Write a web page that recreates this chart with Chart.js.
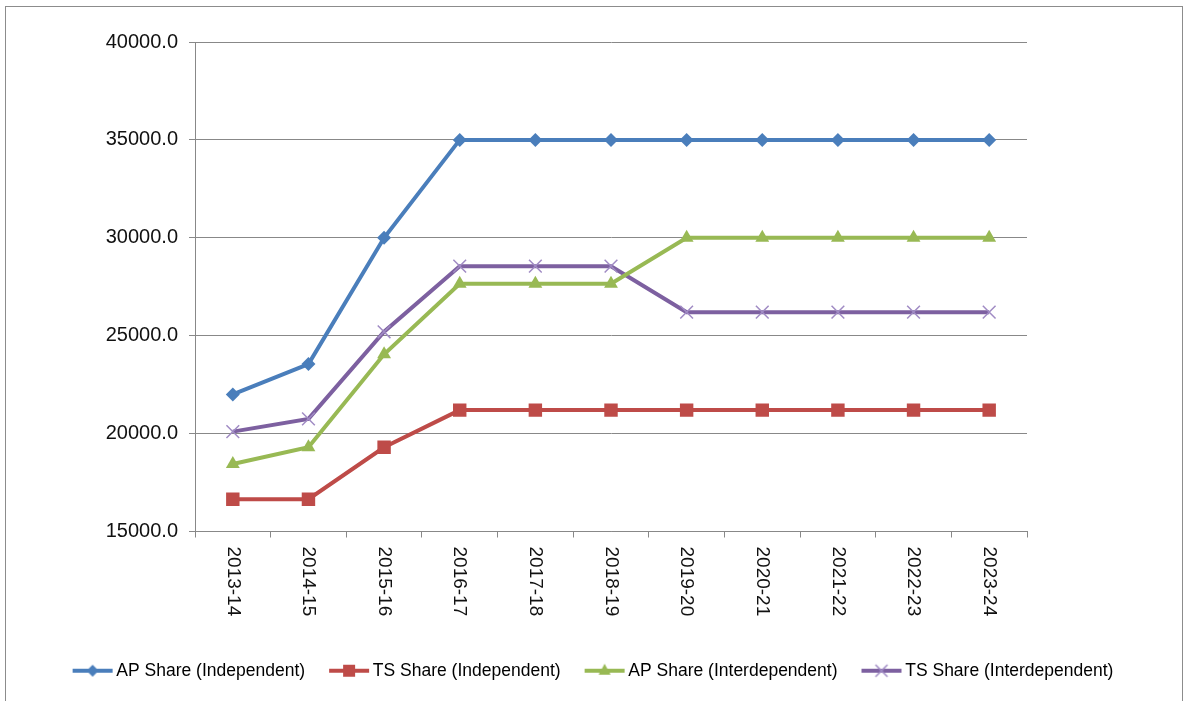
<!DOCTYPE html>
<html>
<head>
<meta charset="utf-8">
<script src="https://cdn.jsdelivr.net/npm/chart.js@4/dist/chart.umd.min.js"></script>
<style>
    body { margin: 0; background: #fff; }
    #frame { position: absolute; left: 5px; top: 6px; width: 1176px; height: 720px; border: 1px solid #8c8c8c; }
    #shareChart { position: absolute; left: 0; top: 0; }
</style>
</head>
<body>
<div id="frame"></div>
<canvas id="shareChart" width="1185" height="701"></canvas>
<script>
const anos = ['2013-14', '2014-15', '2015-16', '2016-17', '2017-18', '2018-19', '2019-20', '2020-21', '2021-22', '2022-23', '2023-24'];
const apIndependent = [22000, 23550, 30000, 35000, 35000, 35000, 35000, 35000, 35000, 35000, 35000];
const tsIndependent = [16650, 16650, 19300, 21200, 21200, 21200, 21200, 21200, 21200, 21200, 21200];
const apInterdependent = [18450, 19300, 24050, 27650, 27650, 27650, 30000, 30000, 30000, 30000, 30000];
const tsInterdependent = [20100, 20750, 25200, 28550, 28550, 28550, 26200, 26200, 26200, 26200, 26200];
const yTicks = [15000, 20000, 25000, 30000, 35000, 40000];

const fonte = 'Liberation Sans, Arial, sans-serif';

function iconeLegenda(cor, estilo, corMarca) {
    const c = document.createElement('canvas');
    c.width = 44; c.height = 18;
    const g = c.getContext('2d');
    const cx = 21, cy = 9;
    g.strokeStyle = cor; g.lineWidth = 4;
    g.beginPath(); g.moveTo(1, cy); g.lineTo(41, cy); g.stroke();
    g.fillStyle = cor;
    g.beginPath();
    if (estilo === 'rectRot') {
        g.moveTo(cx - 6, cy); g.lineTo(cx, cy - 6); g.lineTo(cx + 6, cy); g.lineTo(cx, cy + 6); g.closePath(); g.fill();
    } else if (estilo === 'rect') {
        g.fillRect(cx - 6, cy - 6, 12, 12);
    } else if (estilo === 'triangle') {
        g.moveTo(cx, cy - 7); g.lineTo(cx + 6, cy + 4); g.lineTo(cx - 6, cy + 4); g.closePath(); g.fill();
    } else {
        g.strokeStyle = corMarca; g.lineWidth = 1.5;
        g.moveTo(cx - 6, cy - 6); g.lineTo(cx + 6, cy + 6);
        g.moveTo(cx + 6, cy - 6); g.lineTo(cx - 6, cy + 6); g.stroke();
    }
    return c;
}

const series = [
    { label: 'AP Share (Independent)', data: apIndependent, cor: '#4A7EBB', estilo: 'rectRot', raio: 7 },
    { label: 'TS Share (Independent)', data: tsIndependent, cor: '#BE4B48', estilo: 'rect', raio: 9.5 },
    { label: 'AP Share (Interdependent)', data: apInterdependent, cor: '#98B954', estilo: 'triangle', raio: 8 },
    { label: 'TS Share (Interdependent)', data: tsInterdependent, cor: '#7D60A0', estilo: 'crossRot', raio: 9, marca: '#A08BC4' }
];

// rotulos do eixo x escritos de cima para baixo
const rotulosX = {
    id: 'rotulosX',
    afterDraw(chart) {
        const x = chart.scales.x;
        const ctx = chart.ctx;
        ctx.save();
        ctx.font = '19px ' + fonte;
        ctx.fillStyle = '#111';
        ctx.textAlign = 'left';
        ctx.textBaseline = 'middle';
        anos.forEach((a, i) => {
            ctx.save();
            ctx.translate(x.getPixelForTick(i), x.top + 15);
            ctx.rotate(Math.PI / 2);
            ctx.fillText(a, 0, 0);
            ctx.restore();
        });
        ctx.restore();
    }
};

const ctx = document.getElementById('shareChart').getContext('2d');
new Chart(ctx, {
    type: 'line',
    data: {
        labels: anos,
        datasets: series.map(s => ({
            label: s.label,
            data: s.data,
            borderColor: s.cor,
            backgroundColor: s.cor,
            pointBackgroundColor: s.cor,
            pointBorderColor: s.marca || s.cor,
            pointBorderWidth: s.marca ? 1.5 : 0,
            pointStyle: s.estilo,
            pointRadius: s.raio,
            borderWidth: 4,
            tension: 0,
            fill: false
        }))
    },
    options: {
        responsive: false,
        animation: false,
        events: [],
        layout: { padding: { left: 8, right: 0, top: 42, bottom: 11.5 } },
        scales: {
            x: {
                offset: true,
                grid: { offset: true, drawOnChartArea: false, drawTicks: true, tickLength: 6, color: '#888' },
                border: { color: '#888' },
                ticks: { display: false },
                afterFit: s => { s.height = 99.5; }
            },
            y: {
                min: 15000,
                max: 40000,
                afterBuildTicks: s => { s.ticks = yTicks.map(v => ({ value: v })); },
                grid: { color: '#888', tickLength: 6 },
                border: { color: '#888' },
                ticks: {
                    padding: 11,
                    color: '#111',
                    font: { family: fonte, size: 20 },
                    callback: v => Number(v).toFixed(1)
                },
                afterFit: s => { s.width = 187; }
            },
            y2: {
                position: 'right',
                grid: { display: false },
                border: { display: false },
                ticks: { display: false },
                afterFit: s => { s.width = 158; }
            }
        },
        plugins: {
            tooltip: { enabled: false },
            legend: {
                position: 'bottom',
                labels: {
                    usePointStyle: true,
                    pointStyleWidth: 28,
                    padding: 31,
                    color: '#111',
                    font: { family: fonte, size: 17.5 },
                    generateLabels: () => series.map((s, i) => ({
                        text: s.label,
                        pointStyle: iconeLegenda(s.cor, s.estilo, s.marca),
                        fillStyle: s.cor,
                        strokeStyle: s.cor,
                        lineWidth: 0,
                        datasetIndex: i,
                        hidden: false
                    }))
                }
            }
        }
    },
    plugins: [rotulosX]
});
</script>
</body>
</html>
